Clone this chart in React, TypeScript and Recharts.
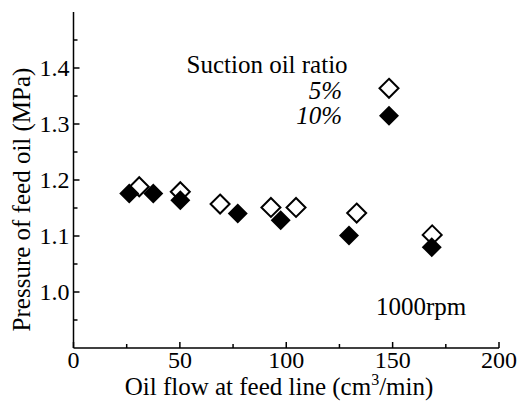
import { ScatterChart, Scatter, XAxis, YAxis } from "recharts";

const x5 = [30.9, 50.2, 68.9, 92.8, 104.6, 133.1, 168.6];
const y5 = [1.188, 1.179, 1.157, 1.151, 1.151, 1.141, 1.102];
const x10 = [26.2, 37.5, 50.2, 77.2, 97.4, 129.5, 168.4];
const y10 = [1.176, 1.176, 1.164, 1.14, 1.128, 1.101, 1.08];

const xTicks = [0, 25, 50, 75, 100, 125, 150, 175, 200];
const xLabels = [0, 50, 100, 150, 200];
const yTicks = [0.95, 1.0, 1.05, 1.1, 1.15, 1.2, 1.25, 1.3, 1.35, 1.4, 1.45];
const yLabels = ["1.0", "1.1", "1.2", "1.3", "1.4"];

const FONT = "Liberation Serif";

const d5 = x5.map((x, i) => ({ x, y: y5[i] }));
const d10 = x10.map((x, i) => ({ x, y: y10[i] }));

function diamond(cx: number, cy: number, r: number) {
  return `M${cx},${cy - r}L${cx + r},${cy}L${cx},${cy + r}L${cx - r},${cy}Z`;
}

const OpenShape = (p: any) => (
  <path d={diamond(p.cx, p.cy, 9.5)} fill="#fff" stroke="#000" strokeWidth={2} />
);
const FilledShape = (p: any) => <path d={diamond(p.cx, p.cy, 10)} fill="#000" stroke="none" />;

const XTick = (p: any) => {
  const v = p.payload.value;
  const major = xLabels.includes(v);
  return (
    <g>
      <line x1={p.x} x2={p.x} y1={p.y} y2={p.y - (major ? 6 : 4)} stroke="#000" strokeWidth={1.5} />
      {major && (
        <text x={p.x} y={p.y + 20} textAnchor="middle" style={{ fontFamily: FONT }} fontSize={24} fill="#000">
          {v}
        </text>
      )}
    </g>
  );
};

const YTick = (p: any) => {
  const v = p.payload.value;
  const lbl = v.toFixed(1);
  const major = Math.abs(v * 10 - Math.round(v * 10)) < 1e-6 && yLabels.includes(lbl);
  return (
    <g>
      <line x1={p.x} x2={p.x + (major ? 6 : 4)} y1={p.y} y2={p.y} stroke="#000" strokeWidth={1.5} />
      {major && (
        <text x={p.x - 4} y={p.y + 8} textAnchor="end" style={{ fontFamily: FONT }} fontSize={24} fill="#000">
          {lbl}
        </text>
      )}
    </g>
  );
};

export default function App() {
  return (
    <div style={{ position: "absolute", left: 0, top: 0, width: 522, height: 401, background: "#fff" }}>
      <ScatterChart width={522} height={401} margin={{ top: 12, right: 23, bottom: 0, left: 0 }}>
        <XAxis
          type="number"
          dataKey="x"
          domain={[0, 200]}
          ticks={xTicks}
          interval={0}
          height={53}
          tickSize={0}
          tickMargin={0}
          tickLine={false}
          tick={XTick}
          axisLine={{ stroke: "#000", strokeWidth: 1.5 }}
        />
        <XAxis xAxisId="top" type="number" orientation="top" domain={[0, 200]} height={0} tick={false} tickLine={false} axisLine={{ stroke: "#000", strokeWidth: 1.5 }} />
        <YAxis
          type="number"
          dataKey="y"
          domain={[0.9, 1.5]}
          ticks={yTicks}
          interval={0}
          width={73.5}
          tickSize={0}
          tickMargin={0}
          tickLine={false}
          tick={YTick}
          axisLine={{ stroke: "#000", strokeWidth: 1.5 }}
        />
        <YAxis yAxisId="right" type="number" orientation="right" domain={[0.9, 1.5]} width={0} tick={false} tickLine={false} axisLine={{ stroke: "#000", strokeWidth: 1.5 }} />
        <Scatter name="5%" data={d5} shape={OpenShape} isAnimationActive={false} />
        <Scatter name="10%" data={d10} shape={FilledShape} isAnimationActive={false} />
      </ScatterChart>
      <svg width={522} height={401} style={{ position: "absolute", left: 0, top: 0, pointerEvents: "none" }}>
        <g style={{ fontFamily: FONT }} fontSize={25} fill="#000">
          <text x={186.5} y={72.5}>Suction oil ratio</text>
          <text x={342} y={98.5} textAnchor="end" fontStyle="italic">5%</text>
          <text x={342} y={124} textAnchor="end" fontStyle="italic">10%</text>
          <text x={376} y={315}>1000rpm</text>
          <text x={279} y={395} textAnchor="middle">
            Oil flow at feed line (cm<tspan fontSize={16} dy={-10}>3</tspan>
            <tspan dy={10}>/min)</tspan>
          </text>
          <text x={30} y={199.5} textAnchor="middle" transform="rotate(-90 30 199.5)">
            Pressure of feed oil (MPa)
          </text>
        </g>
        <path d={diamond(389, 88.3, 9.5)} fill="#fff" stroke="#000" strokeWidth={2} />
        <path d={diamond(389, 115.7, 10)} fill="#000" />
      </svg>
    </div>
  );
}
